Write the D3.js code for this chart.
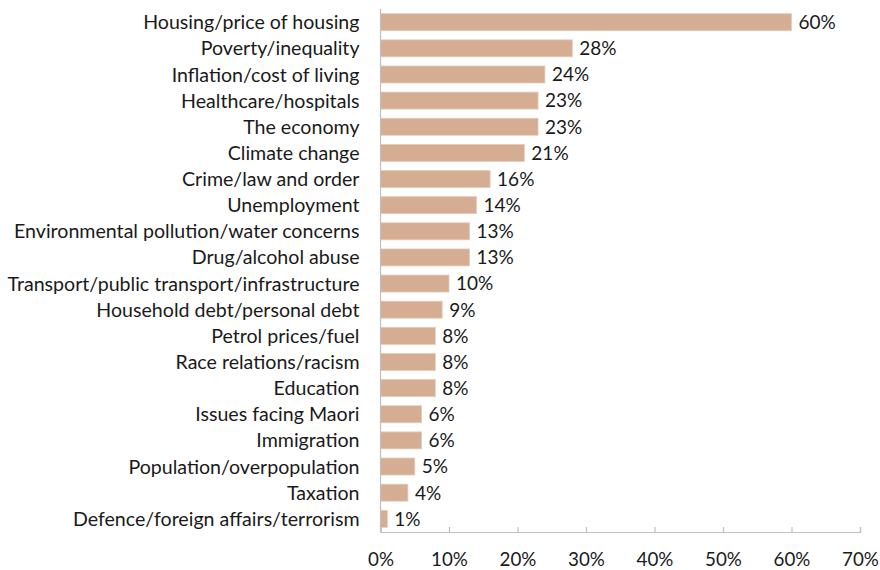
<!DOCTYPE html>
<html>
<head>
<meta charset="utf-8">
<script src="https://cdn.jsdelivr.net/npm/d3@7"></script>
<style>
  body { margin: 0; background: #fff; }
  svg text { font-family: Lato, "Open Sans", sans-serif; fill: #1a1a1a; }
</style>
</head>
<body>
<svg id="chart" width="880" height="570"></svg>
<script>
// issues, top to bottom
const issues = [
  "Housing/price of housing", "Poverty/inequality", "Inflation/cost of living",
  "Healthcare/hospitals", "The economy", "Climate change", "Crime/law and order",
  "Unemployment", "Environmental pollution/water concerns", "Drug/alcohol abuse",
  "Transport/public transport/infrastructure", "Household debt/personal debt",
  "Petrol prices/fuel", "Race relations/racism", "Education", "Issues facing Maori",
  "Immigration", "Population/overpopulation", "Taxation",
  "Defence/foreign affairs/terrorism"
];
const shares = [60, 28, 24, 23, 23, 21, 16, 14, 13, 13, 10, 9, 8, 8, 8, 6, 6, 5, 4, 1];
const ticks = [0, 10, 20, 30, 40, 50, 60, 70];

const margin = { top: 9, right: 20, bottom: 38, left: 380.5 };
const width = 880 - margin.left - margin.right;
const height = 570 - margin.top - margin.bottom;

const svg = d3.select("#chart")
  .append("g")
  .attr("transform", "translate(" + margin.left + "," + margin.top + ")");

const x = d3.scaleLinear().domain([0, 70]).range([0, 479.5]);
const y = d3.scaleBand().domain(issues).range([0, height]).paddingInner(0.35).paddingOuter(0.18);

// bars
svg.selectAll("rect.bar")
  .data(issues)
  .enter()
  .append("rect")
  .attr("class", "bar")
  .attr("x", 0)
  .attr("y", d => y(d))
  .attr("width", (d, i) => x(shares[i]))
  .attr("height", y.bandwidth())
  .attr("fill", "#d4ad92")
  .attr("stroke", "#e6cbb8")
  .attr("stroke-width", 0.8);

// value labels
svg.selectAll("text.val")
  .data(issues)
  .enter()
  .append("text")
  .attr("class", "val")
  .attr("x", (d, i) => x(shares[i]) + 7)
  .attr("y", d => y(d) + y.bandwidth() / 2)
  .attr("dy", "0.36em")
  .style("font-size", "19px")
  .text((d, i) => shares[i] + "%");

// category labels
svg.selectAll("text.cat")
  .data(issues)
  .enter()
  .append("text")
  .attr("class", "cat")
  .attr("x", -21)
  .attr("y", d => y(d) + y.bandwidth() / 2)
  .attr("dy", "0.36em")
  .attr("text-anchor", "end")
  .style("font-size", "19.6px")
  .text(d => d);

// axes lines
svg.append("line")
  .attr("x1", 0).attr("x2", 0)
  .attr("y1", 0).attr("y2", height)
  .attr("stroke", "#bfbfbf").attr("stroke-width", 1.2);

const xAxis = svg.append("g")
  .attr("transform", "translate(0," + height + ")")
  .call(d3.axisBottom(x).tickValues(ticks).tickSize(-5).tickPadding(21).tickFormat(d => d + "%"));
xAxis.select(".domain").attr("stroke", "#bfbfbf").attr("stroke-width", 1.2);
xAxis.selectAll(".tick line").attr("stroke", "#bfbfbf").attr("stroke-width", 1.2);
xAxis.selectAll("text")
  .style("font-size", "18.8px")
  .style("font-family", "Lato, sans-serif")
  .attr("fill", "#1a1a1a");
</script>
</body>
</html>
